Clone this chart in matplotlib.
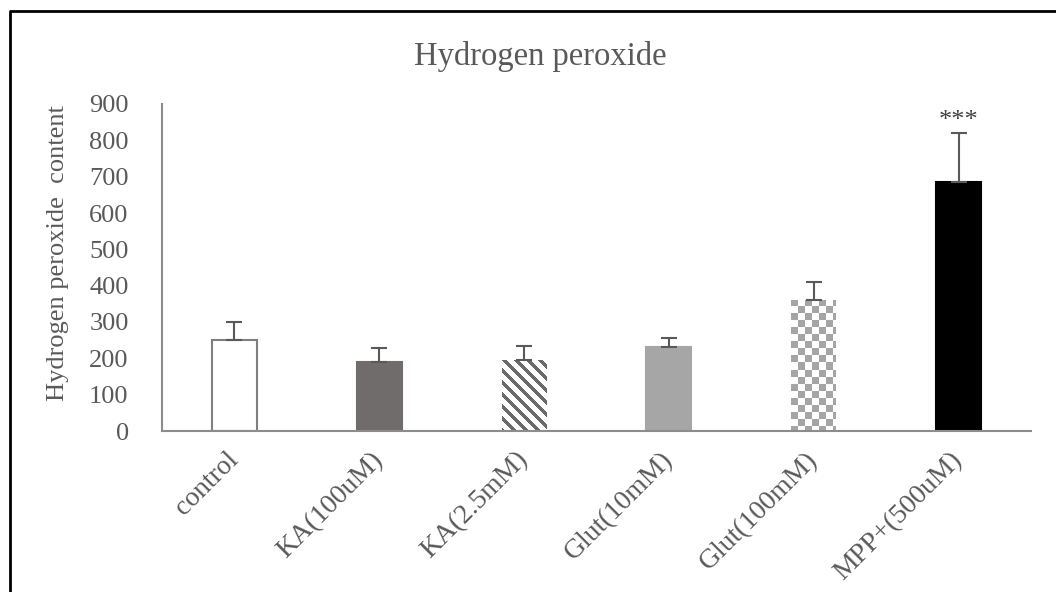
import matplotlib
matplotlib.use("Agg")
import matplotlib.pyplot as plt
from matplotlib.lines import Line2D
import numpy as np

plt.rcParams['font.family'] = ['Liberation Serif', 'DejaVu Serif']

groups = ['control', 'KA(100uM)', 'KA(2.5mM)', 'Glut(10mM)', 'Glut(100mM)', 'MPP+(500uM)']
means = [250, 189, 195, 230, 361, 686]
errs = [51, 39, 40, 25, 49, 133]
stars = ['', '', '', '', '', '***']

txt = '#595959'
W, H = 1056, 592
fig = plt.figure(figsize=(W / 100, H / 100), dpi=100)
ax = fig.add_axes([162 / W, 1 - 431 / H, (1031 - 162) / W, (431 - 104) / H])

x = np.arange(len(groups))
bw = 0.31
fills = ['white', '#716c6c', 'white', '#a6a6a6', 'white', 'black']
edges = ['#7f7f7f', '#716c6c', 'none', '#a6a6a6', 'none', 'black']
bars = ax.bar(x, means, width=bw, color=fills, edgecolor=edges, linewidth=1.5, zorder=2)
ax.errorbar(x, means, yerr=[np.zeros(len(errs)), errs], fmt='none', ecolor='#595959',
            elinewidth=1.5, capsize=6, capthick=1.5, zorder=3)

ax.set_xlim(-0.5, len(groups) - 0.5)
ax.set_ylim(0, 900)
ax.set_yticks(range(0, 901, 100))
ax.set_xticks(x)
ax.set_xticklabels(groups, rotation=45, ha='right', va='center', rotation_mode='anchor', fontsize=20)
ax.tick_params(axis='both', length=0, labelcolor=txt)
ax.tick_params(axis='y', pad=24, labelsize=19)
ax.tick_params(axis='x', pad=18)
for s in ['top', 'right']:
    ax.spines[s].set_visible(False)
for s in ['left', 'bottom']:
    ax.spines[s].set_color('#8c8c8c')
    ax.spines[s].set_linewidth(1.5)

# patterned bars: diagonal stripes and checkerboard, drawn pixel by pixel and clipped to the bar
def pattern_fill(bar, kind):
    x0, y0 = bar.get_x(), bar.get_y()
    x1, y1 = x0 + bar.get_width(), y0 + bar.get_height()
    p0 = ax.transData.transform((x0, y0))
    p1 = ax.transData.transform((x1, y1))
    nx, ny = int(round(p1[0] - p0[0])), int(round(p1[1] - p0[1]))
    jj, ii = np.meshgrid(np.arange(nx), np.arange(ny))
    if kind == 'stripe':
        on = ((jj - ii) % 12) < 5
        col = np.array([0.42, 0.42, 0.42])
    else:
        on = ((jj // 7 + ii // 7) % 2) == 0
        col = np.array([0.65, 0.65, 0.65])
    img = np.ones((ny, nx, 3))
    img[on] = col
    im = ax.imshow(img, extent=[x0, x1, y0, y1], origin='upper', interpolation='nearest',
                   aspect='auto', zorder=2)
    im.set_clip_path(bar)

pattern_fill(bars[2], 'stripe')
pattern_fill(bars[4], 'check')
ax.set_aspect('auto')
ax.set_xlim(-0.5, len(groups) - 0.5)
ax.set_ylim(0, 900)

for xi, m, e, s in zip(x, means, errs, stars):
    if s:
        ax.annotate(s, xy=(xi, m + e), xytext=(0, 1), textcoords='offset points',
                    ha='center', va='bottom', fontsize=19, color='#3f3f3f')

fig.text(540 / W, 1 - 57 / H, 'Hydrogen peroxide', ha='center', va='center', fontsize=23.5, color=txt)
fig.text(58 / W, 1 - 253 / H, 'Hydrogen peroxide  content', ha='center', va='center',
         rotation=90, fontsize=19, color=txt)

fig.add_artist(Line2D([10 / W, 10 / W, 1.0], [0.0, 1 - 11 / H, 1 - 11 / H], color='black', lw=2,
                      transform=fig.transFigure))

fig.savefig('out.png', dpi=100)
